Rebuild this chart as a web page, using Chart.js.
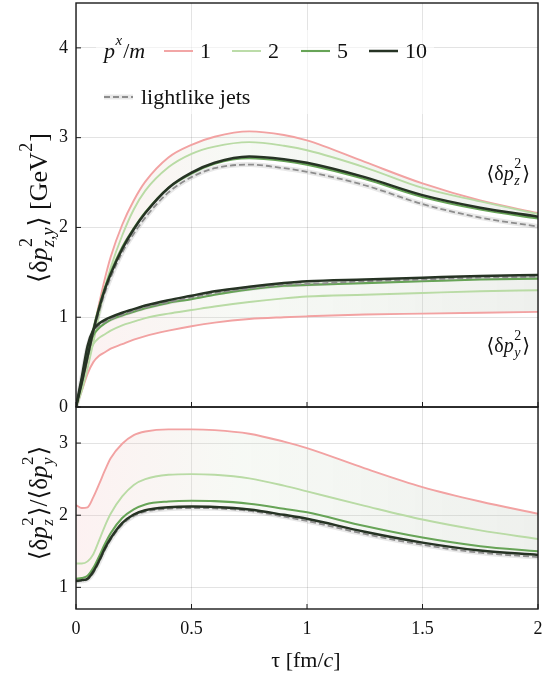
<!DOCTYPE html>
<html><head><meta charset="utf-8">
<script src="https://cdn.jsdelivr.net/npm/chart.js@4/dist/chart.umd.min.js"></script>
<style>
html,body{margin:0;padding:0;background:#fff;}
#wrap{position:relative;width:554px;height:679px;overflow:hidden;background:#fff;}
#c1{position:absolute;left:0;top:0;z-index:2;}
#c2{position:absolute;left:0;top:400px;z-index:1;}
</style></head><body>
<div id="wrap"><canvas id="c1" width="554" height="420"></canvas><canvas id="c2" width="554" height="279"></canvas></div>
<script>
// ---- data ----
const tau = [0, 0.025, 0.05, 0.075, 0.1, 0.125, 0.15, 0.2, 0.25, 0.3, 0.4, 0.5, 0.6, 0.75, 0.9, 1.0, 1.25, 1.5, 1.75, 2.0];
const xTicks = [0, 0.5, 1, 1.5, 2];
const xTickLabels = ['0', '0.5', '1', '1.5', '2'];
const yTicksTop = [0, 1, 2, 3, 4];
const yTicksBottom = [1, 2, 3];
const momentumLabels = ['1', '2', '5', '10'];

// <δp_z^2>
const z1  = [0, 0.24, 0.52, 0.84, 1.15, 1.43, 1.67, 2.03, 2.30, 2.51, 2.78, 2.92, 3.01, 3.07, 3.03, 2.97, 2.73, 2.49, 2.30, 2.16];
const z2  = [0, 0.18, 0.43, 0.72, 1.03, 1.32, 1.55, 1.91, 2.20, 2.41, 2.67, 2.82, 2.90, 2.95, 2.91, 2.86, 2.67, 2.44, 2.29, 2.15];
const z5  = [0, 0.28, 0.58, 0.87, 1.12, 1.33, 1.50, 1.78, 1.99, 2.17, 2.44, 2.60, 2.71, 2.77, 2.74, 2.70, 2.54, 2.34, 2.20, 2.10];
const z10 = [0, 0.27, 0.56, 0.85, 1.10, 1.31, 1.48, 1.76, 1.98, 2.16, 2.44, 2.61, 2.72, 2.79, 2.76, 2.72, 2.56, 2.36, 2.22, 2.12];
const zL  = [0, 0.26, 0.54, 0.82, 1.06, 1.27, 1.44, 1.72, 1.93, 2.11, 2.39, 2.56, 2.66, 2.70, 2.66, 2.62, 2.47, 2.26, 2.11, 2.01];
// <δp_y^2>
const y1  = [0, 0.18, 0.37, 0.50, 0.57, 0.61, 0.65, 0.70, 0.75, 0.79, 0.85, 0.90, 0.94, 0.98, 1.00, 1.01, 1.03, 1.04, 1.05, 1.06];
const y2  = [0, 0.25, 0.55, 0.70, 0.77, 0.81, 0.85, 0.91, 0.95, 0.99, 1.04, 1.08, 1.12, 1.17, 1.21, 1.23, 1.25, 1.27, 1.29, 1.30];
const y5  = [0, 0.30, 0.63, 0.80, 0.88, 0.93, 0.97, 1.02, 1.06, 1.10, 1.16, 1.20, 1.25, 1.31, 1.35, 1.36, 1.38, 1.40, 1.42, 1.43];
const y10 = [0, 0.33, 0.68, 0.86, 0.93, 0.97, 1.00, 1.05, 1.09, 1.13, 1.19, 1.24, 1.29, 1.34, 1.38, 1.40, 1.42, 1.44, 1.46, 1.47];
const yL  = [0, 0.32, 0.66, 0.84, 0.91, 0.95, 0.98, 1.03, 1.07, 1.11, 1.17, 1.22, 1.27, 1.32, 1.36, 1.37, 1.40, 1.42, 1.44, 1.45];
// ratio <δp_z^2>/<δp_y^2>
const r1  = [2.14, 2.10, 2.11, 2.25, 2.43, 2.62, 2.79, 2.99, 3.11, 3.16, 3.19, 3.19, 3.18, 3.13, 3.02, 2.93, 2.65, 2.39, 2.19, 2.02];
const r2  = [1.33, 1.33, 1.36, 1.46, 1.65, 1.85, 2.02, 2.26, 2.42, 2.50, 2.56, 2.57, 2.56, 2.51, 2.41, 2.33, 2.13, 1.94, 1.79, 1.67];
const r5  = [1.12, 1.13, 1.16, 1.27, 1.43, 1.60, 1.75, 1.96, 2.08, 2.15, 2.19, 2.20, 2.195, 2.16, 2.09, 2.04, 1.85, 1.69, 1.57, 1.50];
const r10 = [1.09, 1.10, 1.12, 1.22, 1.37, 1.54, 1.68, 1.89, 2.01, 2.07, 2.11, 2.12, 2.115, 2.08, 2.005, 1.95, 1.77, 1.62, 1.51, 1.45];
const rL  = [1.08, 1.09, 1.11, 1.20, 1.35, 1.52, 1.66, 1.87, 1.99, 2.05, 2.09, 2.10, 2.095, 2.06, 1.98, 1.92, 1.74, 1.59, 1.48, 1.42];

// ---- styling ----
const FAM = '"Liberation Serif","DejaVu Serif",serif';
const GRID = 'rgba(0,0,0,0.11)';
const C = { p1: '#f2a2a2', p2: '#b9dba5', p5: '#67a457', p10: '#263324', lj: '#8d8d8d', halo: 'rgba(0,0,0,0.09)' };
const W = { p1: 1.9, p2: 1.9, p5: 2.1, p10: 2.5, lj: 1.8 };

function series(arr) { return tau.map((t, i) => ({ x: t, y: arr[i] })); }
function bandFill(ctx) {
  const ca = ctx.chart.chartArea;
  if (!ca) return 'transparent';
  const g = ctx.chart.ctx.createLinearGradient(ca.left, 0, ca.right, 0);
  g.addColorStop(0, 'rgba(240,175,175,0.17)');
  g.addColorStop(0.35, 'rgba(205,220,195,0.17)');
  g.addColorStop(1, 'rgba(175,185,170,0.21)');
  return g;
}
function ds(arr, color, width, order, extra) {
  return Object.assign({ data: series(arr), borderColor: color, borderWidth: width, pointRadius: 0, fill: false,
    order: order, cubicInterpolationMode: 'monotone' }, extra || {});
}
function group(a10, a5, a2, a1, aL, base) {
  return [
    ds(a10, C.p10, W.p10, 0),
    ds(a5, C.p5, W.p5, 2),
    ds(a2, C.p2, W.p2, 3),
    ds(a1, C.p1, W.p1, 4, { fill: { target: base }, backgroundColor: bandFill }),
    ds(aL, C.lj, W.lj, 1, { borderDash: [6, 3] }),
    ds(aL, C.halo, 5, 5)
  ];
}

// ---- rich text helper ----
function fnt(px, it) { return (it ? 'italic ' : '') + px + 'px ' + FAM; }
function rich(ctx, parts, x, y, align, px) {
  const items = []; let w = 0;
  for (const p of parts) {
    if (p.t !== undefined) {
      ctx.font = fnt(px, p.it); const ww = ctx.measureText(p.t).width;
      items.push({ p, w: ww }); w += ww;
    } else {
      const sp = Math.round(px * 0.68); let w1 = 0, w2 = 0;
      if (p.sup) { ctx.font = fnt(sp, p.supIt); w1 = ctx.measureText(p.sup).width; }
      if (p.sub) { ctx.font = fnt(sp, p.subIt); w2 = ctx.measureText(p.sub).width; }
      const ww = Math.max(w1, w2) + 1.5; items.push({ p, w: ww, sp }); w += ww;
    }
  }
  let cx = align === 'center' ? x - w / 2 : (align === 'right' ? x - w : x);
  ctx.textAlign = 'left'; ctx.textBaseline = 'alphabetic'; ctx.fillStyle = '#111';
  for (const it of items) {
    const p = it.p;
    if (p.t !== undefined) { ctx.font = fnt(px, p.it); ctx.fillText(p.t, cx, y); }
    else {
      if (p.sup) { ctx.font = fnt(it.sp, p.supIt); ctx.fillText(p.sup, cx + 0.5, y - px * 0.58); }
      if (p.sub) { ctx.font = fnt(it.sp, p.subIt); ctx.fillText(p.sub, cx + 0.5, y + px * 0.25); }
    }
    cx += it.w;
  }
  return w;
}

// ---- frame + inward ticks ----
const framePlugin = {
  id: 'frame',
  afterDatasetsDraw(chart) {
    const { ctx, chartArea: a } = chart;
    const xs = chart.scales.x, ys = chart.scales.y;
    ctx.save();
    ctx.strokeStyle = '#1b1b1b'; ctx.lineWidth = 1.4;
    ctx.strokeRect(a.left, a.top, a.right - a.left, a.bottom - a.top);
    ctx.lineWidth = 1;
    ctx.beginPath();
    xs.ticks.forEach(t => { const px = xs.getPixelForValue(t.value); ctx.moveTo(px, a.bottom); ctx.lineTo(px, a.bottom - 5); });
    ys.ticks.forEach(t => { const py = ys.getPixelForValue(t.value); ctx.moveTo(a.left, py); ctx.lineTo(a.left + 5, py); });
    ctx.stroke();
    ctx.restore();
  }
};

function xScale(showLabels) {
  return {
    type: 'linear', min: 0, max: 2,
    afterBuildTicks: s => { s.ticks = xTicks.map(v => ({ value: v })); },
    ticks: { display: showLabels, font: { family: FAM, size: 18 }, color: '#111', padding: 9, maxRotation: 0,
      callback: (v, i) => xTickLabels[i] },
    grid: { color: GRID, drawTicks: false },
    border: { display: false },
    afterFit: s => { s.height = showLabels ? 70 : 0; s.paddingLeft = 0; s.paddingRight = 0; }
  };
}
function yScale(min, max, ticks) {
  return {
    min: min, max: max,
    afterBuildTicks: s => { s.ticks = ticks.map(v => ({ value: v })); },
    ticks: { font: { family: FAM, size: 18 }, color: '#111', padding: 8, callback: v => String(v) },
    grid: { color: GRID, drawTicks: false },
    border: { display: false },
    afterFit: s => { s.width = 76; s.paddingTop = 0; s.paddingBottom = 0; }
  };
}
const basePlugins = { legend: { display: false }, tooltip: { enabled: false }, filler: { drawTime: 'beforeDatasetsDraw' } };

// ---- top panel ----
const topText = {
  id: 'topText',
  afterDraw(chart) {
    const ctx = chart.ctx;
    ctx.save();
    ctx.translate(47, 208); ctx.rotate(-Math.PI / 2);
    rich(ctx, [{ t: '⟨δ' }, { t: 'p', it: true }, { sup: '2', sub: 'z,y', subIt: true }, { t: '⟩ [GeV' }, { sup: '2' }, { t: ']' }], 0, 0, 'center', 26);
    ctx.restore();
    ctx.save();
    rich(ctx, [{ t: '⟨δ' }, { t: 'p', it: true }, { sup: '2', sub: 'z', subIt: true }, { t: '⟩' }], 530, 180, 'right', 20);
    rich(ctx, [{ t: '⟨δ' }, { t: 'p', it: true }, { sup: '2', sub: 'y', subIt: true }, { t: '⟩' }], 530, 352, 'right', 20);
    // legend
    ctx.fillStyle = 'rgba(255,255,255,0.55)';
    ctx.fillRect(96, 30, 338, 84);
    rich(ctx, [{ t: 'p', it: true }, { sup: 'x', supIt: true }, { t: '/' }, { t: 'm', it: true }], 104, 58, 'left', 22);
    const keys = ['p1', 'p2', 'p5', 'p10'];
    const sx = [164, 232, 301, 369];
    keys.forEach((k, i) => {
      ctx.strokeStyle = C[k]; ctx.lineWidth = W[k]; ctx.setLineDash([]);
      ctx.beginPath(); ctx.moveTo(sx[i], 51); ctx.lineTo(sx[i] + 29, 51); ctx.stroke();
      rich(ctx, [{ t: momentumLabels[i] }], sx[i] + 36, 58, 'left', 22);
    });
    ctx.strokeStyle = C.halo; ctx.lineWidth = 5;
    ctx.beginPath(); ctx.moveTo(104, 97); ctx.lineTo(133, 97); ctx.stroke();
    ctx.strokeStyle = C.lj; ctx.lineWidth = W.lj; ctx.setLineDash([6, 3]);
    ctx.beginPath(); ctx.moveTo(104, 97); ctx.lineTo(133, 97); ctx.stroke();
    ctx.setLineDash([]);
    rich(ctx, [{ t: 'lightlike jets' }], 141, 104, 'left', 22);
    ctx.restore();
  }
};

new Chart(document.getElementById('c1'), {
  type: 'line',
  data: { datasets: group(z10, z5, z2, z1, zL, 0).concat(group(y10, y5, y2, y1, yL, 6)) },
  options: {
    responsive: false, animation: false, devicePixelRatio: 1,
    layout: { padding: { top: 3, right: 16, bottom: 13, left: 0 } },
    plugins: basePlugins,
    scales: { x: xScale(false), y: yScale(0, 4.5, yTicksTop) }
  },
  plugins: [framePlugin, topText]
});

// ---- bottom panel ----
const botText = {
  id: 'botText',
  afterDraw(chart) {
    const ctx = chart.ctx;
    ctx.save();
    ctx.translate(47, 103); ctx.rotate(-Math.PI / 2);
    rich(ctx, [{ t: '⟨δ' }, { t: 'p', it: true }, { sup: '2', sub: 'z', subIt: true }, { t: '⟩/⟨δ' }, { t: 'p', it: true }, { sup: '2', sub: 'y', subIt: true }, { t: '⟩' }], 0, 0, 'center', 25);
    ctx.restore();
    ctx.save();
    rich(ctx, [{ t: 'τ [fm/' }, { t: 'c', it: true }, { t: ']' }], 306, 267, 'center', 22);
    ctx.restore();
  }
};

new Chart(document.getElementById('c2'), {
  type: 'line',
  data: { datasets: group(r10, r5, r2, r1, rL, 0) },
  options: {
    responsive: false, animation: false, devicePixelRatio: 1,
    layout: { padding: { top: 7, right: 16, bottom: 0, left: 0 } },
    plugins: basePlugins,
    scales: { x: xScale(true), y: yScale(0.7, 3.5, yTicksBottom) }
  },
  plugins: [framePlugin, botText]
});
</script>
</body></html>
